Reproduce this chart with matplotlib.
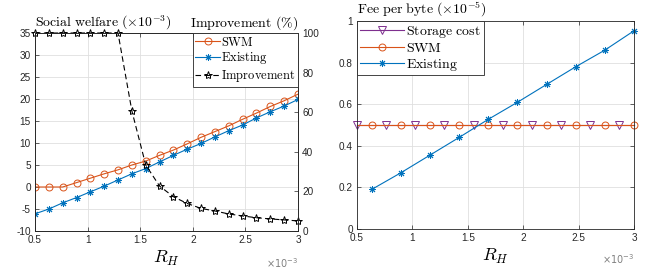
import matplotlib
matplotlib.use("Agg")
import matplotlib.pyplot as plt

plt.rcParams["font.family"] = "Liberation Sans"
plt.rcParams["mathtext.fontset"] = "cm"
plt.rcParams["axes.unicode_minus"] = False

# R_H (x 10^-3)
rh = [0.5, 0.632, 0.763, 0.895, 1.026, 1.158, 1.289, 1.421, 1.553, 1.684,
      1.816, 1.947, 2.079, 2.211, 2.342, 2.474, 2.605, 2.737, 2.868, 3.0]

# social welfare (x 10^-3)
sw_swm = [0.0, 0.0, 0.0, 1.0, 2.0, 3.0, 3.9, 5.0, 5.9, 7.2,
          8.4, 9.8, 11.3, 12.6, 13.9, 15.4, 16.8, 18.3, 19.6, 21.1]
sw_existing = [-6.1, -5.0, -3.6, -2.4, -1.1, 0.2, 1.6, 3.0, 4.2, 5.7,
               7.2, 8.6, 9.9, 11.4, 12.8, 14.1, 15.7, 17.1, 18.4, 19.9]
improvement = [100, 100, 100, 100, 100, 100, 100, 60.6, 33.3, 22.7,
               17.3, 13.9, 11.4, 10.1, 8.6, 7.6, 6.7, 6.1, 5.6, 5.1]

# fee per byte (x 10^-5)
fee_storage = [0.5] * 20
fee_swm = [0.5] * 20
rh_existing = [0.632, 0.895, 1.158, 1.421, 1.684, 1.947, 2.211, 2.474, 2.737, 3.0]
fee_existing = [0.19, 0.27, 0.355, 0.44, 0.527, 0.609, 0.695, 0.78, 0.86, 0.953]

c_orange = "#D95319"
c_blue = "#0072BD"
c_purple = "#7E2F8E"
c_axis = "#262626"
c_grid = "#dfdfdf"
tick_fs = 7.2
txt_fs = 10


def style_axes(ax):
    ax.grid(True, color=c_grid, linewidth=0.6)
    ax.set_axisbelow(True)
    for s in ax.spines.values():
        s.set_color(c_axis)
        s.set_linewidth(0.6)
    ax.tick_params(direction="in", length=3, width=0.5, labelsize=tick_fs,
                   colors=c_axis, labelcolor=c_axis, pad=3)


fig = plt.figure(figsize=(6.51, 2.71), dpi=100)

# ---- left: social welfare + improvement ----
ax1 = fig.add_axes([35 / 651, 40 / 271, 263 / 651, 198 / 271])
style_axes(ax1)
ax1.plot(rh, sw_swm, color=c_orange, lw=0.8, marker="o", ms=5,
         mfc="none", mew=0.7, label=r"$\mathrm{SWM}$")
ax1.plot(rh, sw_existing, color=c_blue, lw=0.8, marker=(8, 2, 0), ms=5,
         mew=0.7, label=r"$\mathrm{Existing}$")
ax1.set_xlim(0.5, 3)
ax1.set_ylim(-10, 35)
ax1.set_xticks([0.5, 1, 1.5, 2, 2.5, 3])
ax1.set_xticklabels(["0.5", "1", "1.5", "2", "2.5", "3"])
ax1.set_yticks(range(-10, 36, 5))
ax1.tick_params(top=True)

ax2 = ax1.twinx()
ax2.plot(rh, improvement, color="black", lw=0.8, ls=(0, (5, 3)), marker="*",
         ms=6, mfc="none", mew=0.7, label=r"$\mathrm{Improvement}$", clip_on=False)
ax2.set_ylim(0, 100)
ax2.set_yticks(range(0, 101, 20))
for s in ax2.spines.values():
    s.set_color(c_axis)
    s.set_linewidth(0.6)
ax2.tick_params(direction="in", length=3, width=0.5, labelsize=tick_fs,
                colors=c_axis, labelcolor=c_axis, pad=3)

h1, l1 = ax1.get_legend_handles_labels()
h2, l2 = ax2.get_legend_handles_labels()
leg = ax2.legend(h1 + h2, l1 + l2, loc="upper right", fontsize=9,
                 fancybox=False, framealpha=1, edgecolor=c_axis,
                 borderpad=0.2, labelspacing=0.15, handlelength=2.0,
                 handletextpad=0.1, borderaxespad=0)
leg.get_frame().set_linewidth(0.6)

ax1.text(0, 1.03, r"$\mathrm{Social\ welfare}\ (\times 10^{-3})$",
         transform=ax1.transAxes, ha="left", va="baseline", fontsize=txt_fs)
ax1.text(1, 1.03, r"$\mathrm{Improvement}\ (\%)$",
         transform=ax1.transAxes, ha="right", va="baseline", fontsize=txt_fs)
ax1.text(0.5, -0.14, r"$R_H$", transform=ax1.transAxes, ha="center",
         va="center", fontsize=13)
ax1.text(1, -0.16, r"$\times10^{-3}$", transform=ax1.transAxes, ha="right",
         va="center", fontsize=7, color="#808080", math_fontfamily="dejavusans")

# ---- right: fee per byte ----
ax3 = fig.add_axes([357 / 651, 42 / 271, 277 / 651, 208 / 271])
style_axes(ax3)
ax3.plot(rh, fee_storage, color=c_purple, lw=0.8, marker="v", ms=6,
         mfc="none", mew=0.7, markevery=slice(0, None, 2),
         label=r"$\mathrm{Storage\ cost}$", clip_on=False)
ax3.plot(rh, fee_swm, color=c_orange, lw=0.8, marker="o", ms=5,
         mfc="none", mew=0.7, markevery=slice(1, None, 2),
         label=r"$\mathrm{SWM}$", clip_on=False)
ax3.plot(rh_existing, fee_existing, color=c_blue, lw=0.8, marker=(8, 2, 0),
         ms=5, mew=0.7, label=r"$\mathrm{Existing}$", clip_on=False)
ax3.set_xlim(0.5, 3)
ax3.set_ylim(0, 1)
ax3.set_xticks([0.5, 1, 1.5, 2, 2.5, 3])
ax3.set_xticklabels(["0.5", "1", "1.5", "2", "2.5", "3"])
ax3.set_yticks([0, 0.2, 0.4, 0.6, 0.8, 1])
ax3.set_yticklabels(["0", "0.2", "0.4", "0.6", "0.8", "1"])
ax3.tick_params(top=True, right=True)
leg3 = ax3.legend(loc="upper left", fontsize=10, fancybox=False, framealpha=1,
                  edgecolor=c_axis, borderpad=0.2, labelspacing=0.1,
                  handlelength=3.2, handletextpad=0.15, borderaxespad=0)
leg3.get_frame().set_linewidth(0.6)

ax3.text(0, 1.034, r"$\mathrm{Fee\ per\ byte}\ (\times 10^{-5})$",
         transform=ax3.transAxes, ha="left", va="baseline", fontsize=txt_fs)
ax3.text(0.5, -0.13, r"$R_H$", transform=ax3.transAxes, ha="center",
         va="center", fontsize=13)
ax3.text(1, -0.145, r"$\times10^{-3}$", transform=ax3.transAxes, ha="right",
         va="center", fontsize=7, color="#808080", math_fontfamily="dejavusans")

fig.savefig("out.png", dpi=100)
